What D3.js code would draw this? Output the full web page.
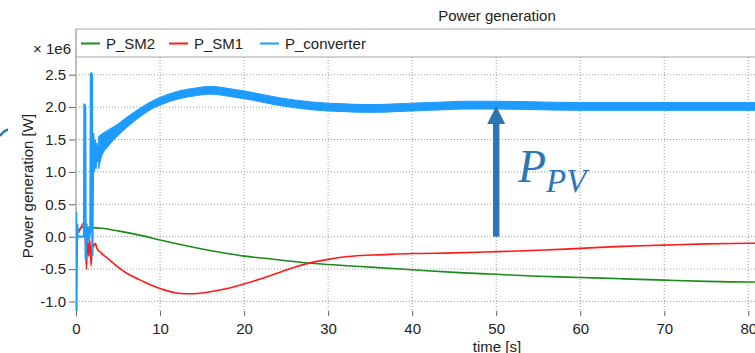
<!DOCTYPE html>
<html>
<head>
<meta charset="utf-8">
<script src="https://cdn.jsdelivr.net/npm/d3@7"></script>
<style>
  body { margin: 0; background: #fff; }
  svg { display: block; font-family: "Liberation Sans", Arial, sans-serif; }
</style>
</head>
<body>
<div id="chart"></div>
<script>
// values (y in units of 1e6 W)
const xTicks = [0, 10, 20, 30, 40, 50, 60, 70, 80];
const yTicks = [-1.0, -0.5, 0.0, 0.5, 1.0, 1.5, 2.0, 2.5];

const sm2T = [0.3, 0.6, 1, 2, 3, 5, 7, 10, 12, 15, 18, 20, 23, 25, 28, 30, 35, 40, 45, 50, 55, 60, 65, 70, 75, 80, 82];
const sm2V = [0.1, 0.14, 0.15, 0.14, 0.13, 0.09, 0.04, -0.05, -0.11, -0.19, -0.26, -0.30, -0.34, -0.37, -0.41, -0.43, -0.47, -0.51, -0.55, -0.58, -0.61, -0.63, -0.65, -0.67, -0.69, -0.70, -0.70];

const sm1T = [0.3, 0.6, 0.9, 1.05, 1.15, 1.25, 1.35, 1.5, 1.65, 1.8, 1.95, 2.1, 2.3, 2.5, 3, 4, 5, 6, 7, 8, 9, 10, 11, 12, 13, 14, 15, 16, 18, 20, 22, 24, 26, 28, 30, 32, 34, 36, 40, 45, 50, 55, 60, 65, 70, 75, 80, 82];
const sm1V = [0.06, 0.14, 0.21, 0.1, -0.15, -0.5, 0.0, -0.3, -0.05, -0.45, -0.1, -0.15, -0.1, -0.18, -0.25, -0.36, -0.47, -0.56, -0.63, -0.69, -0.75, -0.80, -0.84, -0.87, -0.88, -0.88, -0.87, -0.85, -0.80, -0.73, -0.65, -0.56, -0.47, -0.40, -0.35, -0.31, -0.29, -0.28, -0.26, -0.25, -0.23, -0.21, -0.18, -0.15, -0.13, -0.11, -0.10, -0.10];

// converter start-up transient (thin line)
const convStartT = [0, 0.02, 0.05, 0.1, 0.15, 0.2, 0.5, 0.95, 1.0, 1.1, 1.15, 1.25, 1.35, 1.45, 1.55, 1.7, 1.78, 1.9, 1.95, 2.05, 2.15, 2.25, 2.35, 2.45, 2.55, 2.7];
const convStartV = [0, 0.38, -1.15, -0.3, 0.2, 0, 0, 0, 2.05, 2.0, -0.35, 0.2, -0.1, 0.15, -0.05, 0.1, 2.53, 2.5, -0.3, 1.6, 1.0, 1.5, 1.05, 1.45, 1.15, 1.4];

// converter after start-up: centre value and half-width of the noise band
const convT = [2.7, 3, 4, 5, 6, 7, 8, 9, 10, 11, 12, 13, 14, 15, 16, 17, 18, 19, 20, 22, 24, 26, 28, 30, 32, 34, 36, 38, 40, 42, 44, 46, 48, 50, 55, 60, 65, 70, 75, 80, 82];
const convMid = [1.3, 1.4, 1.54, 1.65, 1.76, 1.86, 1.95, 2.03, 2.09, 2.14, 2.18, 2.21, 2.23, 2.25, 2.26, 2.25, 2.23, 2.21, 2.19, 2.14, 2.09, 2.05, 2.02, 2.00, 1.99, 1.98, 1.98, 1.99, 2.00, 2.01, 2.02, 2.03, 2.03, 2.03, 2.02, 2.01, 2.01, 2.01, 2.01, 2.01, 2.01];
const convSpread = [0.25, 0.18, 0.12, 0.09, 0.08, 0.07, 0.065, 0.06, 0.06, 0.06, 0.06, 0.06, 0.06, 0.06, 0.06, 0.06, 0.06, 0.06, 0.06, 0.06, 0.06, 0.06, 0.06, 0.06, 0.06, 0.06, 0.06, 0.06, 0.06, 0.06, 0.06, 0.06, 0.06, 0.06, 0.06, 0.06, 0.06, 0.06, 0.06, 0.06, 0.06];

const GREEN = "#1a8a1a";
const RED = "#ff1a1a";
const BLUE = "#1e9bff";
const NOTE_BLUE = "#2e75b6";
const GRID = "#9a9a9a";
const FRAME = "#a8a8a8";
const TEXT = "#222";

const width = 755, height = 353;
const plot = {left: 76, right: 762, top: 57, bottom: 311};

const svg = d3.select("#chart").append("svg")
  .attr("width", width)
  .attr("height", height);

const x = d3.scaleLinear().domain([0, 80]).range([76, 748.3]);
const y = d3.scaleLinear().domain([0, 2.5]).range([236.7, 74.7]);

svg.append("clipPath").attr("id", "clip")
  .append("rect")
  .attr("x", plot.left).attr("y", plot.top)
  .attr("width", plot.right - plot.left).attr("height", plot.bottom - plot.top);

// title
svg.append("text")
  .attr("x", 497).attr("y", 21)
  .attr("text-anchor", "middle")
  .style("font-size", "15px").attr("fill", TEXT)
  .text("Power generation");

// legend box lines
svg.append("line").attr("x1", plot.left).attr("x2", width).attr("y1", 29).attr("y2", 29)
  .attr("stroke", FRAME).attr("stroke-width", 1.2);
svg.append("line").attr("x1", plot.left).attr("x2", width).attr("y1", plot.top).attr("y2", plot.top)
  .attr("stroke", FRAME).attr("stroke-width", 1.2);

// grid
svg.append("g").selectAll("line")
  .data(xTicks.filter(d => d > 0))
  .join("line")
  .attr("x1", d => x(d)).attr("x2", d => x(d))
  .attr("y1", plot.top).attr("y2", plot.bottom)
  .attr("stroke", GRID).attr("stroke-width", 1).attr("stroke-dasharray", "1,2");
svg.append("g").selectAll("line")
  .data(yTicks)
  .join("line")
  .attr("x1", plot.left).attr("x2", width)
  .attr("y1", d => y(d)).attr("y2", d => y(d))
  .attr("stroke", GRID).attr("stroke-width", 1).attr("stroke-dasharray", "1,2");

// axes
const xAxis = svg.append("g")
  .attr("transform", "translate(0," + plot.bottom + ")")
  .call(d3.axisBottom(x).tickValues(xTicks).tickSize(5).tickPadding(4).tickFormat(d3.format("d")));
const yAxis = svg.append("g")
  .attr("transform", "translate(" + plot.left + ",0)")
  .call(d3.axisLeft(y).tickValues(yTicks).tickSize(7).tickPadding(3).tickFormat(d3.format(".1f")));
[xAxis, yAxis].forEach(a => {
  a.select(".domain").remove();
  a.selectAll(".tick line").attr("stroke", "#666");
  a.selectAll(".tick text")
    .style("font-size", "15px")
    .style("font-family", "Liberation Sans, Arial, sans-serif")
    .attr("fill", TEXT);
});
xAxis.selectAll(".tick text").attr("dy", "0.95em");
yAxis.selectAll(".tick text").text(d => d3.format(".1f")(d).replace("−", "-"));

svg.append("line").attr("x1", plot.left).attr("x2", plot.left).attr("y1", 29).attr("y2", plot.bottom)
  .attr("stroke", FRAME).attr("stroke-width", 1.5);

// axis labels
svg.append("text")
  .attr("x", 71).attr("y", 54)
  .attr("text-anchor", "end")
  .style("font-size", "15px").attr("fill", TEXT)
  .text("× 1e6");
svg.append("text")
  .attr("transform", "translate(33,186) rotate(-90)")
  .attr("text-anchor", "middle")
  .style("font-size", "15px").attr("fill", TEXT)
  .text("Power generation [W]");
svg.append("text")
  .attr("x", 497).attr("y", 352)
  .attr("text-anchor", "middle")
  .style("font-size", "15px").attr("fill", TEXT)
  .text("time [s]");

// series
const plotG = svg.append("g").attr("clip-path", "url(#clip)");
const line = d3.line().x(d => x(d[0])).y(d => y(d[1]));

plotG.append("path")
  .datum(d3.zip(sm2T, sm2V))
  .attr("d", line.curve(d3.curveMonotoneX))
  .attr("fill", "none").attr("stroke", GREEN).attr("stroke-width", 1.6);

plotG.append("path")
  .datum(d3.zip(sm1T, sm1V))
  .attr("d", d3.line().x(d => x(d[0])).y(d => y(d[1])).curve(d3.curveMonotoneX))
  .attr("fill", "none").attr("stroke", RED).attr("stroke-width", 1.6);

plotG.append("path")
  .datum(d3.zip(convStartT, convStartV))
  .attr("d", d3.line().x(d => x(d[0])).y(d => y(d[1])))
  .attr("fill", "none").attr("stroke", BLUE).attr("stroke-width", 2.2);

const band = d3.area()
  .x(d => x(d[0]))
  .y0(d => y(d[1] - d[2]))
  .y1(d => y(d[1] + d[2]))
  .curve(d3.curveMonotoneX);
plotG.append("path")
  .datum(d3.zip(convT, convMid, convSpread))
  .attr("d", band)
  .attr("fill", BLUE).attr("stroke", BLUE).attr("stroke-width", 1);

// legend
const legendItems = [
  {name: "P_SM2", color: GREEN, x: 81},
  {name: "P_SM1", color: RED, x: 169},
  {name: "P_converter", color: BLUE, x: 260}
];
const lg = svg.append("g").selectAll("g").data(legendItems).join("g")
  .attr("transform", d => "translate(" + d.x + ",43.5)");
lg.append("line").attr("x1", 0).attr("x2", 19).attr("stroke", d => d.color).attr("stroke-width", 2);
lg.append("text").attr("x", 25).attr("y", 5.5)
  .style("font-size", "15px").attr("fill", TEXT)
  .text(d => d.name);

// annotation: P_PV arrow
const ax = x(50);
svg.append("line")
  .attr("x1", ax).attr("x2", ax)
  .attr("y1", y(0)).attr("y2", y(2.0) + 16)
  .attr("stroke", NOTE_BLUE).attr("stroke-width", 6.5);
svg.append("path")
  .attr("d", `M${ax},${y(2.0) - 1} L${ax - 9},${y(2.0) + 17} L${ax + 9},${y(2.0) + 17} Z`)
  .attr("fill", NOTE_BLUE);
const note = svg.append("text")
  .attr("x", 518).attr("y", 182)
  .attr("fill", NOTE_BLUE)
  .style("font-family", "Liberation Serif, DejaVu Serif, serif")
  .style("font-style", "italic");
note.append("tspan").style("font-size", "46px").text("P");
note.append("tspan").attr("dy", 10).style("font-size", "33px").text("PV");

// cut-off piece of another annotation at the left border
svg.append("path")
  .attr("d", "M0,136 Q3,131 8,129.5")
  .attr("fill", "none").attr("stroke", NOTE_BLUE).attr("stroke-width", 2.5);
</script>
</body>
</html>
